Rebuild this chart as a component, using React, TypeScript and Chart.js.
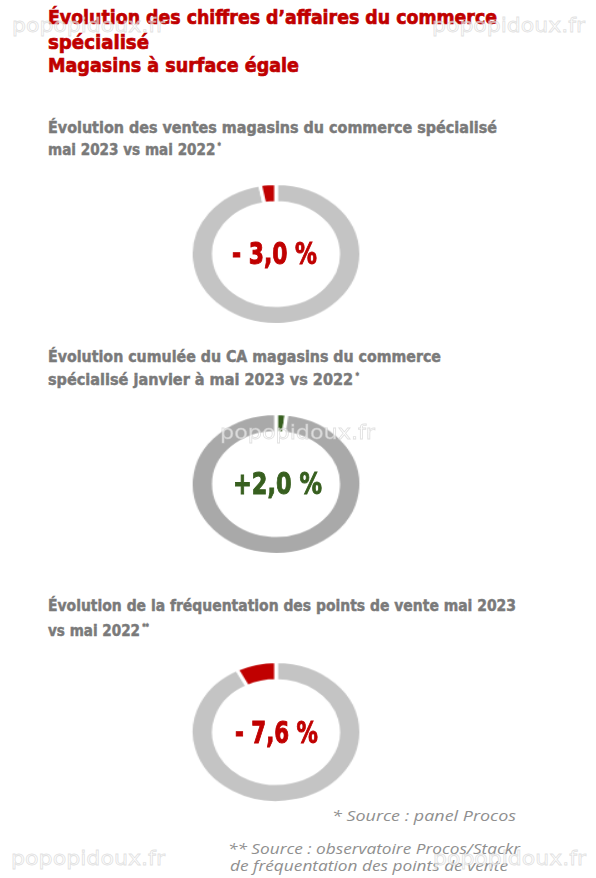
import React, { useEffect, useLayoutEffect, useRef } from "react";
import { Chart, registerables } from "chart.js";

Chart.register(...registerables);

// ---------- data ----------
const pageTitle = [
  "Évolution des chiffres d’affaires du commerce",
  "spécialisé",
  "Magasins à surface égale",
];
const chartTitles = [
  ["Évolution des ventes magasins du commerce spécialisé", "mai 2023 vs mai 2022"],
  ["Évolution cumulée du CA magasins du commerce", "spécialisé janvier à mai 2023 vs 2022"],
  ["Évolution de la fréquentation des points de vente mai 2023", "vs mai 2022"],
];
const titleMarks = ["*", "*", "**"];
const sliceLabels = ["Évolution", "Base"];
const evolutionValues = [-3.0, 2.0, -7.6];
const centerLabels = ["- 3,0 %", "+2,0 %", "- 7,6 %"];
const sourceNotes = [
  "* Source : panel Procos",
  "** Source : observatoire Procos/Stackr",
  "de fréquentation des points de vente",
];
const watermark = "popopidoux.fr";

// ---------- styles ----------
const RED = "#c00000";
const GREEN = "#375f1f";
const GREY_TEXT = "#7a7a7a";
const ringGreys = ["#c4c4c4", "#a9a9a9", "#c4c4c4"];
const BOLD_FONT = '"DejaVu Sans", "Liberation Sans", sans-serif';
const NOTE_FONT = '"Open Sans", "DejaVu Sans", sans-serif';

type FitProps = {
  x: number;
  cy: number;
  w: number;
  size: number;
  color?: string;
  weight?: number | string;
  family?: string;
  italic?: boolean;
  heavy?: number;
  extra?: React.CSSProperties;
  children: React.ReactNode;
};

function Fit({ x, cy, w, size, color, weight, family, italic, heavy, extra, children }: FitProps) {
  const ref = useRef<HTMLSpanElement>(null);
  useLayoutEffect(() => {
    const el = ref.current;
    if (!el) return;
    el.style.transform = "none";
    const nat = el.getBoundingClientRect().width;
    if (nat > 0) el.style.transform = `scaleX(${w / nat})`;
  });
  const c = color || "#000";
  return (
    <span
      ref={ref}
      style={{
        position: "absolute",
        left: x,
        top: cy - size * 0.5,
        fontSize: size,
        lineHeight: `${size}px`,
        whiteSpace: "nowrap",
        transformOrigin: "0 0",
        color: c,
        fontWeight: weight ?? 700,
        fontFamily: family || BOLD_FONT,
        fontStyle: italic ? "italic" : "normal",
        zIndex: 2,
        ...(heavy ? ({ WebkitTextStroke: `${heavy}px ${c}` } as React.CSSProperties) : {}),
        ...extra,
      }}
    >
      {children}
    </span>
  );
}

function Donut({ index, left, top }: { index: number; left: number; top: number }) {
  const ref = useRef<HTMLCanvasElement>(null);
  useEffect(() => {
    const v = evolutionValues[index];
    const a = Math.abs(v);
    const accent = v < 0 ? RED : GREEN;
    // negative: the coloured slice sits just before 12 o'clock; positive: just after
    const data = v < 0 ? [100 - a, a] : [a, 100 - a];
    const colors = v < 0 ? [ringGreys[index], accent] : [accent, ringGreys[index]];
    const labels = v < 0 ? [sliceLabels[1], sliceLabels[0]] : sliceLabels;
    const chart = new Chart(ref.current!, {
      type: "doughnut",
      data: {
        labels,
        datasets: [
          {
            data,
            backgroundColor: colors,
            borderColor: "#ffffff",
            borderWidth: 3,
            hoverOffset: 0,
          },
        ],
      },
      options: {
        responsive: false,
        maintainAspectRatio: false,
        animation: false,
        cutout: "73%",
        layout: { padding: 0 },
        plugins: { legend: { display: false }, tooltip: { enabled: false } },
        events: [],
      },
    });
    return () => chart.destroy();
  }, [index]);
  return (
    <canvas
      ref={ref}
      width={140}
      height={140}
      style={{ position: "absolute", left, top, width: 174, height: 144, zIndex: 1 }}
    />
  );
}

const wmStyle: React.CSSProperties = {
  color: "rgba(255,255,255,0.6)",
  WebkitTextStroke: "0.8px rgba(200,200,200,0.55)",
  zIndex: 3,
} as React.CSSProperties;

export default function App() {
  const sup = (m: string) => (
    <span style={{ fontSize: "0.5em", verticalAlign: "0.7em", fontWeight: 400 }}> {m}</span>
  );
  return (
    <div
      style={{
        position: "absolute",
        left: 0,
        top: 0,
        width: 596,
        height: 878,
        background: "#fff",
        overflow: "hidden",
      }}
    >
      {/* page title */}
      <Fit x={48} cy={17} w={449} size={20} color={RED} heavy={0.7}>{pageTitle[0]}</Fit>
      <Fit x={48} cy={42} w={101} size={20} color={RED} heavy={0.7}>{pageTitle[1]}</Fit>
      <Fit x={48} cy={65} w={251} size={20} color={RED} heavy={0.7}>{pageTitle[2]}</Fit>

      {/* chart 1 */}
      <Fit x={48} cy={128} w={449} size={16} color={GREY_TEXT} heavy={0.5}>{chartTitles[0][0]}</Fit>
      <Fit x={48} cy={147} w={173} size={16} color={GREY_TEXT} heavy={0.5}>
        {chartTitles[0][1]}
        {sup(titleMarks[0])}
      </Fit>
      <Donut index={0} left={189} top={182} />
      <Fit x={232} cy={254} w={85} size={30} color={RED} heavy={1}>{centerLabels[0]}</Fit>

      {/* chart 2 */}
      <Fit x={48} cy={357} w={393} size={16} color={GREY_TEXT} heavy={0.5}>{chartTitles[1][0]}</Fit>
      <Fit x={48} cy={377} w={311} size={16} color={GREY_TEXT} heavy={0.5}>
        {chartTitles[1][1]}
        {sup(titleMarks[1])}
      </Fit>
      <Donut index={1} left={189} top={412} />
      <Fit x={233} cy={484} w={89} size={30} color={GREEN} heavy={1}>{centerLabels[1]}</Fit>

      {/* chart 3 */}
      <Fit x={48} cy={606} w={468} size={16} color={GREY_TEXT} heavy={0.5}>{chartTitles[2][0]}</Fit>
      <Fit x={48} cy={628} w={101} size={16} color={GREY_TEXT} heavy={0.5}>
        {chartTitles[2][1]}
        {sup(titleMarks[2])}
      </Fit>
      <Donut index={2} left={189} top={660} />
      <Fit x={235} cy={733} w={83} size={30} color={RED} heavy={1}>{centerLabels[2]}</Fit>

      {/* sources */}
      <Fit x={332} cy={816} w={184} size={14} color="#8f8f8f" weight={400} italic family={NOTE_FONT}>{sourceNotes[0]}</Fit>
      <Fit x={228} cy={849} w={292} size={14} color="#8f8f8f" weight={400} italic family={NOTE_FONT}>{sourceNotes[1]}</Fit>
      <Fit x={230} cy={866} w={278} size={14} color="#8f8f8f" weight={400} italic family={NOTE_FONT}>{sourceNotes[2]}</Fit>

      {/* watermarks */}
      <Fit x={12} cy={25} w={153} size={20} weight={400} extra={wmStyle}>{watermark}</Fit>
      <Fit x={432} cy={25} w={153} size={20} weight={400} extra={wmStyle}>{watermark}</Fit>
      <Fit x={220} cy={432} w={155} size={20} weight={400} extra={wmStyle}>{watermark}</Fit>
      <Fit x={433} cy={858} w={153} size={20} weight={400} extra={wmStyle}>{watermark}</Fit>
      <Fit x={11} cy={858} w={154} size={20} weight={400} extra={wmStyle}>{watermark}</Fit>
    </div>
  );
}
